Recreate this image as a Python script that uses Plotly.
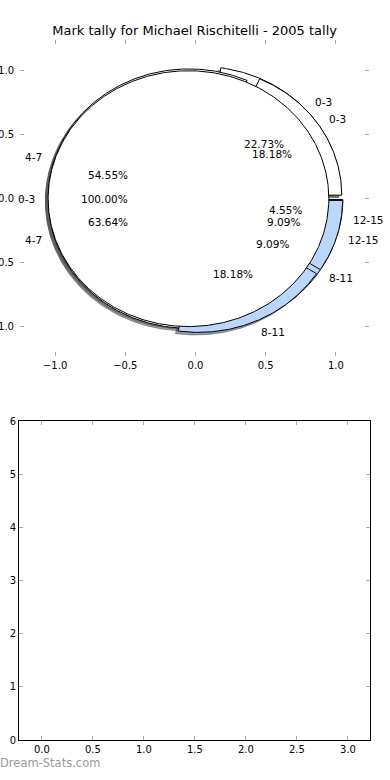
import numpy as np
import plotly.graph_objects as go

title = "Mark tally for Michael Rischitelli - 2005 tally"
watermark = "Dream-Stats.com"

# three overlaid pies (tallies per mark band), drawn in this order
labels = ["0-3", "4-7", "8-11", "12-15"]
tally_c = [5, 14, 2, 1]      # 22.73 % / 63.64 % / 9.09 % / 4.55 %
tally_b = [2, 6, 2, 1]       # 18.18 % / 54.55 % / 18.18 % / 9.09 %
labels_a = ["0-3"]
tally_a = [11]               # 100.00 %

wedge_colors = {"0-3": "#ffffff", "4-7": "#ffffff", "8-11": "#bad6fb", "12-15": "#bad6fb"}
explode = 0.05
radius = 1.0
label_dist = 1.1
pct_dist = 0.6
shadow_off = (-0.02, -0.02)

top_ticks = [-1.0, -0.5, 0.0, 0.5, 1.0]
bottom_xticks = [0.0, 0.5, 1.0, 1.5, 2.0, 2.5, 3.0]
bottom_yticks = [0, 1, 2, 3, 4, 5, 6]

FONT = "DejaVu Sans"


def fmt(v):
    s = f"{v:.1f}"
    return s.replace("-", "\u2212")


def wedge_xy(cx, cy, t1, t2):
    n = max(int(abs(t2 - t1) * 2) + 2, 8)
    th = np.radians(np.linspace(t1, t2, n))
    xs = cx + radius * np.cos(th)
    ys = cy + radius * np.sin(th)
    if t2 - t1 >= 359.999:
        return list(xs), list(ys)
    return [cx] + list(xs) + [cx], [cy] + list(ys) + [cy]


def build_pie(vals, labs):
    total = float(sum(vals))
    out = []
    t1 = 0.0
    for v, lab in zip(vals, labs):
        frac = v / total
        t2 = t1 + frac
        thm = 2 * np.pi * 0.5 * (t1 + t2)
        cx = explode * np.cos(thm)
        cy = explode * np.sin(thm)
        out.append(dict(label=lab, frac=frac, cx=cx, cy=cy, a1=360 * t1, a2=360 * t2, thm=thm))
        t1 = t2
    return out


pies = [build_pie(tally_c, labels), build_pie(tally_b, labels), build_pie(tally_a, labels_a)]

fig = go.Figure()


def rgba_shadow(hexcol):
    h = hexcol.lstrip("#")
    r, g, b = (int(h[i:i + 2], 16) for i in (0, 2, 4))
    return f"rgba({int(0.3 * r)},{int(0.3 * g)},{int(0.3 * b)},0.5)"


# shadows (below every wedge)
for pie in pies:
    for w in pie:
        xs, ys = wedge_xy(w["cx"], w["cy"], w["a1"], w["a2"])
        xs = [x + shadow_off[0] for x in xs]
        ys = [y + shadow_off[1] for y in ys]
        col = rgba_shadow(wedge_colors[w["label"]])
        fig.add_trace(go.Scatter(x=xs, y=ys, mode="lines", fill="toself", fillcolor=col,
                                 line=dict(color=col, width=1), hoverinfo="skip",
                                 showlegend=False, xaxis="x", yaxis="y"))

# wedges
for pie in pies:
    for w in pie:
        xs, ys = wedge_xy(w["cx"], w["cy"], w["a1"], w["a2"])
        fig.add_trace(go.Scatter(x=xs, y=ys, mode="lines", fill="toself",
                                 fillcolor=wedge_colors[w["label"]],
                                 line=dict(color="black", width=1), hoverinfo="skip",
                                 showlegend=False, xaxis="x", yaxis="y"))

annotations = []
for pie in pies:
    for w in pie:
        xt = w["cx"] + label_dist * radius * np.cos(w["thm"])
        yt = w["cy"] + label_dist * radius * np.sin(w["thm"])
        left = xt > 0
        annotations.append(dict(x=xt, y=yt, xref="x", yref="y", text=w["label"], showarrow=False,
                                 xanchor="left" if left else "right", yanchor="middle",
                                 xshift=-4 if left else 3,
                                 font=dict(family=FONT, size=10.5, color="black")))
        xp = w["cx"] + pct_dist * radius * np.cos(w["thm"])
        yp = w["cy"] + pct_dist * radius * np.sin(w["thm"])
        annotations.append(dict(x=xp, y=yp, xref="x", yref="y", text=f"{100 * w['frac']:.2f}%",
                                 showarrow=False, xanchor="center", yanchor="middle",
                                 font=dict(family=FONT, size=10.5, color="black")))

annotations.append(dict(x=-19 / 351, y=(740 - 763) / 700, xref="paper", yref="paper", text=watermark,
                        showarrow=False, xanchor="left", yanchor="middle", xshift=-2,
                        font=dict(family=FONT, size=11.5, color="#999999")))

# empty bottom axes
fig.add_trace(go.Scatter(x=[], y=[], xaxis="x2", yaxis="y2", showlegend=False))

tickstyle = dict(ticks="inside", ticklen=4, tickwidth=1, tickcolor="#aaaaaa",
                 tickfont=dict(family=FONT, size=10, color="black"),
                 showgrid=False, zeroline=False, automargin=False)

fig.update_layout(
    width=390, height=780,
    margin=dict(l=19, r=20, t=40, b=40),
    paper_bgcolor="white", plot_bgcolor="white",
    showlegend=False,
    title=dict(text=title, x=0.499, xanchor="center", y=1 - 30 / 780, yanchor="middle",
               font=dict(family=FONT, size=13, color="black")),
    annotations=annotations,
    xaxis=dict(domain=[1 / 351, 350 / 351], range=[-1.25, 1.236], anchor="y",
               tickvals=top_ticks, ticktext=[fmt(v) for v in top_ticks],
               showline=False, mirror="ticks", ticklabelstandoff=2, **tickstyle),
    yaxis=dict(domain=[(740 - 356) / 700, 1.0], range=[-1.23, 1.24], anchor="x",
               tickvals=top_ticks, ticktext=[fmt(v) for v in top_ticks],
               showline=False, mirror="ticks", ticklabelstandoff=5, **tickstyle),
    xaxis2=dict(domain=[0, 1], range=[-0.225, 3.216], anchor="y2",
                tickvals=bottom_xticks, ticktext=[f"{v:.1f}" for v in bottom_xticks],
                showline=True, linecolor="black", linewidth=1, mirror="ticks", **tickstyle),
    yaxis2=dict(domain=[0, (740 - 421) / 700], range=[0, 6], anchor="x2",
                tickvals=bottom_yticks, ticktext=[str(v) for v in bottom_yticks],
                showline=True, linecolor="black", linewidth=1, mirror="ticks", **tickstyle),
)

fig.write_html("out.html", config={"displayModeBar": False},
               post_script="document.body.style.margin='0px';document.body.style.overflow='hidden';")
